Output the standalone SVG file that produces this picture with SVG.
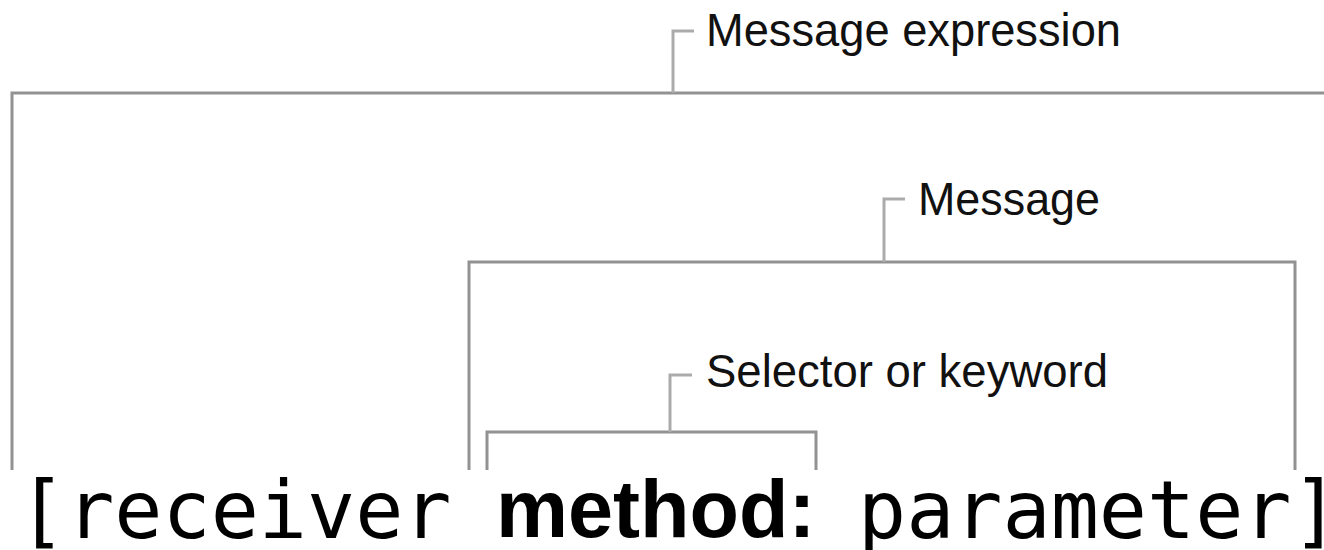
<svg xmlns="http://www.w3.org/2000/svg" width="1324" height="550" viewBox="0 0 1324 550">
  <style>
    .bracket { fill: none; stroke: #929292; stroke-width: 3; }
    .tick { fill: none; stroke: #ababab; stroke-width: 3; }
    .label { font-family: "Liberation Sans", Arial, sans-serif; font-size: 47px; fill: #111; }
    .code { font-family: "DejaVu Sans Mono", "Liberation Mono", monospace; font-size: 80px; fill: #000; }
    .kw { font-family: "Liberation Sans", Arial, sans-serif; font-weight: bold; font-size: 81px; fill: #000; }
  </style>
  <rect width="1324" height="550" fill="#fff"/>

  <!-- brackets spanning parts of the expression, with their label ticks -->
  <g id="connectors">
    <path class="bracket" d="M12 470 V93 H1324"/>
    <path class="tick" d="M673 93 V31 H694"/>
    <path class="bracket" d="M469 470 V262 H1295 V470"/>
    <path class="tick" d="M884 262 V199 H905"/>
    <path class="bracket" d="M487 470 V432 H816 V470"/>
    <path class="tick" d="M670 432 V375 H692"/>
  </g>

  <g id="label-message-expression">
    <text class="label" x="706" y="46" textLength="415" lengthAdjust="spacingAndGlyphs">Message expression</text>
  </g>
  <g id="label-message">
    <text class="label" x="918" y="215" textLength="182" lengthAdjust="spacingAndGlyphs">Message</text>
  </g>
  <g id="label-selector">
    <text class="label" x="706" y="387" textLength="402" lengthAdjust="spacingAndGlyphs">Selector or keyword</text>
  </g>

  <!-- the message expression itself -->
  <g id="expression">
    <text class="code" x="18" y="538">[receiver</text>
    <text class="kw" x="496" y="537">method:</text>
    <text class="code" x="858" y="538">parameter]</text>
  </g>
</svg>
